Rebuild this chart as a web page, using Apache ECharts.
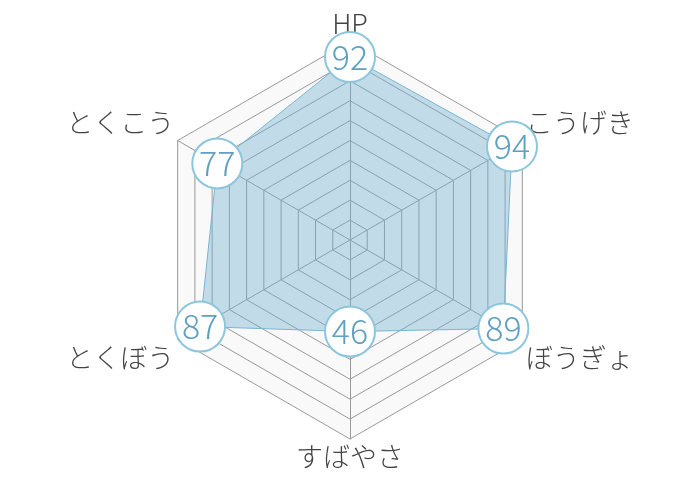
<!DOCTYPE html>
<html>
<head>
<meta charset="utf-8">
<script src="https://cdn.jsdelivr.net/npm/echarts@6/dist/echarts.min.js"></script>
<style>
  html, body { margin: 0; padding: 0; background: #fff; }
  #chart { width: 700px; height: 480px; }
</style>
</head>
<body>
<div id="chart"></div>
<script>
// ステータス (時計回り)
const statNames = ['HP', 'こうげき', 'ぼうぎょ', 'すばやさ', 'とくぼう', 'とくこう'];
const statValues = [92, 94, 89, 46, 87, 77];
const statMax = 100;

// echartsのradarは反時計回りなので並びを入れ替える
const order = [0, 5, 4, 3, 2, 1];
// 斜めの軸名は上下にずらす
const upperNames = ['こうげき', 'とくこう'];
const lowerNames = ['ぼうぎょ', 'とくぼう'];

const chart = echarts.init(document.getElementById('chart'));

const option = {
  textStyle: { fontFamily: 'Noto Sans CJK JP' },
  radar: {
    center: ['50%', '50%'],
    radius: 199,
    startAngle: 90,
    splitNumber: 10,
    shape: 'polygon',
    indicator: order.map(i => ({ name: statNames[i], max: statMax, min: 0 })),
    axisName: {
      color: '#444',
      fontSize: 27,
      fontWeight: 300,
      fontFamily: 'Noto Sans CJK JP',
      formatter: function (name) {
        if (upperNames.indexOf(name) >= 0) return '{up|' + name + '}';
        if (lowerNames.indexOf(name) >= 0) return '{down|' + name + '}';
        return name;
      },
      rich: {
        up: { fontSize: 27, fontWeight: 300, color: '#444', padding: [0, 0, 32, 0] },
        down: { fontSize: 27, fontWeight: 300, color: '#444', padding: [32, 0, 0, 0] }
      }
    },
    nameGap: 4,
    axisLine: { lineStyle: { color: '#999', width: 1 } },
    splitLine: { lineStyle: { color: '#999', width: 1 } },
    splitArea: { areaStyle: { color: ['#f9f9f9'] } }
  },
  series: [{
    type: 'radar',
    symbol: 'circle',
    symbolSize: 50,
    lineStyle: { color: '#7ab8d4', width: 1 },
    areaStyle: { color: '#6fb0cf', opacity: 0.4 },
    itemStyle: { color: '#fff', borderColor: '#8cc6de', borderWidth: 2 },
    label: {
      show: true,
      position: 'inside',
      color: '#5fa0c0',
      fontSize: 34,
      fontWeight: 300,
      fontFamily: 'Noto Sans CJK JP'
    },
    data: [{ value: order.map(i => statValues[i]) }]
  }]
};

chart.setOption(option);
</script>
</body>
</html>
